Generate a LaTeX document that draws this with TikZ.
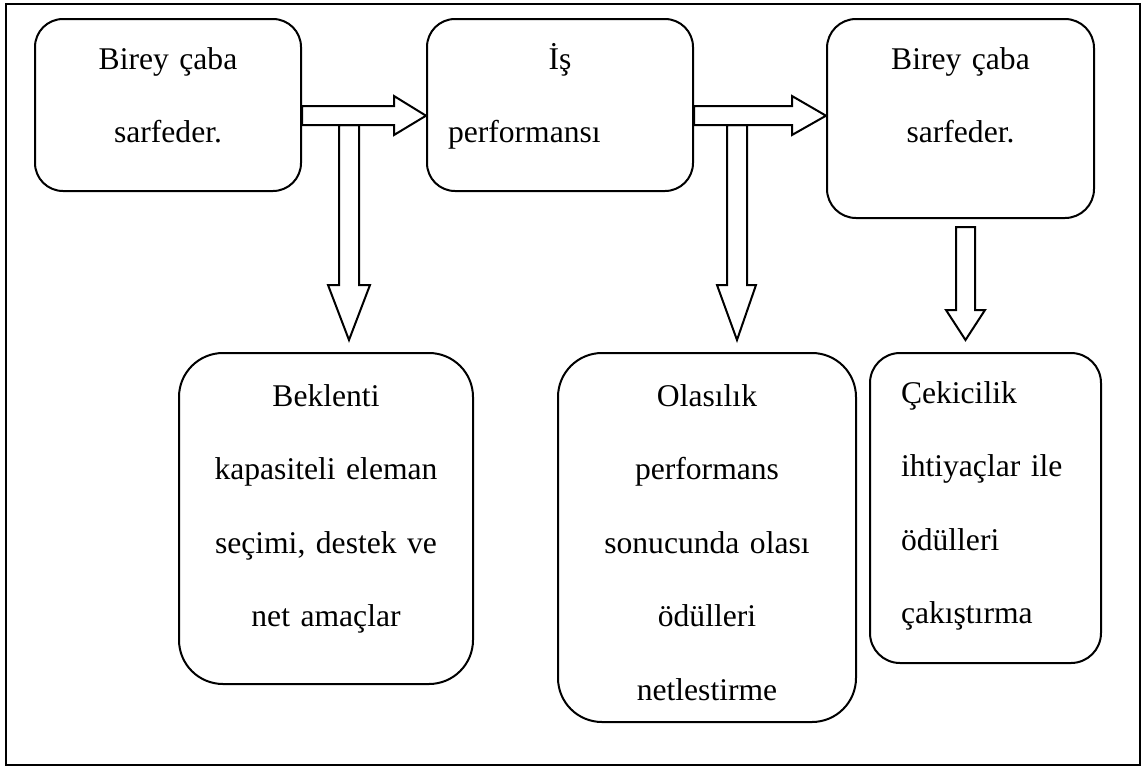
\documentclass[tikz,border=0pt]{standalone}
\usepackage{fontspec}
\setmainfont{Liberation Serif}
\usetikzlibrary{positioning,calc}

\begin{document}
\begin{tikzpicture}[
  x=0.5pt, y=-0.5pt,
  kutu/.style={draw, line width=1pt, anchor=north west, inner ysep=0pt,
    align=center, font=\fontsize{15.8pt}{36.8pt}\selectfont},
  okblok/.style={draw, line width=1pt, fill=white, line join=miter}
]
\useasboundingbox (0,0) rectangle (1147,767);
% cerceve
\draw[line width=1pt] (6,4) rectangle (1140,765);
% ust sira
\node[kutu, rounded corners=14pt, inner xsep=10pt, text width=113pt,
  text height=25pt, text depth=61pt] (caba1) at (34,18) {Birey çaba\\sarfeder.};
\node[kutu, rounded corners=14pt, inner xsep=10.5pt, text width=112pt, align=left,
  text height=25pt, text depth=61pt] (perf) at (426,18) {\makebox[\linewidth]{İş}\\performansı};
\node[kutu, rounded corners=14.5pt, inner xsep=10pt, text width=113.5pt,
  text height=25pt, text depth=74.5pt] (caba2) at (826,18) {Birey çaba\\sarfeder.};
% alt sira
\node[kutu, rounded corners=22pt, inner xsep=10pt, text width=127pt,
  text height=26.5pt, text depth=139pt] (bekle) at (178,352)
  {Beklenti\\kapasiteli eleman\\seçimi, destek ve\\net amaçlar};
\node[kutu, rounded corners=22pt, inner xsep=10pt, text width=129pt,
  text height=26.5pt, text depth=158pt] (olas) at (557,352)
  {Olasılık\\performans\\sonucunda olası\\ödülleri\\netlestirme};
\node[kutu, rounded corners=15pt, inner xsep=15.5pt, text width=84.5pt, align=left,
  text height=25pt, text depth=130pt] (cekici) at (869,352)
  {Çekicilik\\ihtiyaçlar ile\\ödülleri\\çakıştırma};
% asagi oklar
\draw[okblok] (339,125) -- (339,285) -- (328,285) -- ($(bekle.north -| 349,0)+(0,-12)$)
  -- (370,285) -- (359,285) -- (359,125) -- cycle;
\draw[okblok] (727,125) -- (727,285) -- (717,285) -- ($(olas.north -| 737,0)+(0,-12)$)
  -- (756,285) -- (747,285) -- (747,125) -- cycle;
\draw[okblok] (956,227) -- (956,310) -- (946,310) -- ($(cekici.north -| 965.5,0)+(0,-12)$)
  -- (985,310) -- (975,310) -- (975,227) -- cycle;
% saga oklar
\draw[okblok] (caba1.east |- 0,106) -- (394,106) -- (394,96) -- (perf.west |- 0,115.7)
  -- (394,135) -- (394,125) -- (caba1.east |- 0,125) -- cycle;
\draw[okblok] (perf.east |- 0,106) -- (792,106) -- (792,96) -- (caba2.west |- 0,115.7)
  -- (792,135) -- (792,125) -- (perf.east |- 0,125) -- cycle;
\end{tikzpicture}
\end{document}
